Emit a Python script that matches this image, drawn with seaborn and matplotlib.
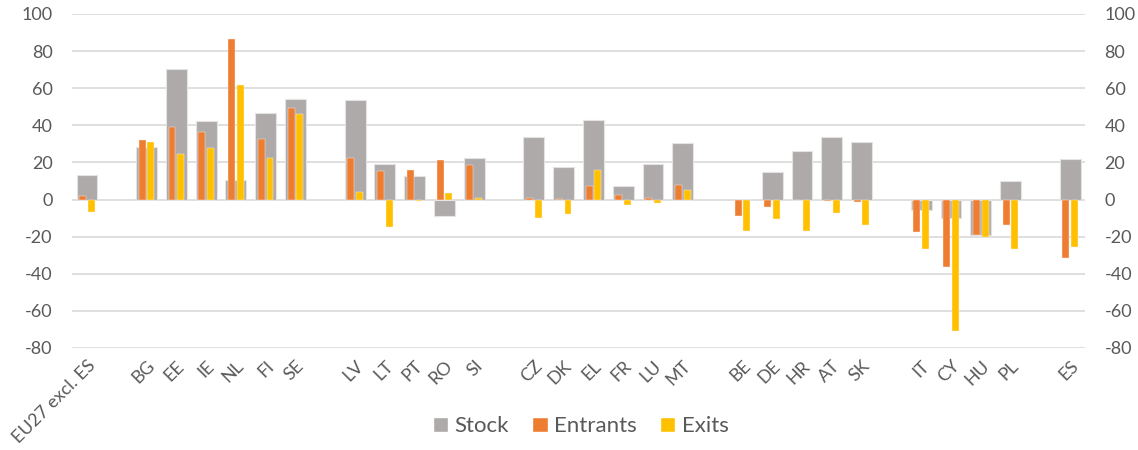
import matplotlib
matplotlib.use("Agg")
import matplotlib.pyplot as plt
from matplotlib.patches import Patch
import seaborn as sns
import pandas as pd

countries = ["EU27 excl. ES", "BG", "EE", "IE", "NL", "FI", "SE",
             "LV", "LT", "PT", "RO", "SI",
             "CZ", "DK", "EL", "FR", "LU", "MT",
             "BE", "DE", "HR", "AT", "SK",
             "IT", "CY", "HU", "PL", "ES"]
stock = [13, 28.4, 70.3, 42.1, 10.3, 46.6, 54,
         53.7, 19.2, 12.5, -9, 22.2,
         33.5, 17.4, 43, 7.1, 19, 30.6,
         0.5, 14.8, 26.1, 33.9, 30.8,
         -5.9, -10.1, -19.3, 10.1, 21.6]
entrants = [1.8, 32.2, 39, 36.3, 86.7, 32.7, 49.5,
            22.2, 15.6, 16.1, 21.2, 18.4,
            0.7, 0.2, 7.4, 2.2, 0.9, 8,
            -8.6, -4, 0, -0.7, -1.4,
            -17.7, -36.2, -19.3, -13.7, -31.4]
exits = [-6.8, 30.8, 24.8, 27.7, 61.7, 22.3, 45.9,
         4.2, -14.6, -0.9, 3.4, 1.1,
         -10.1, -7.6, 16.1, -2.7, -2, 5.4,
         -16.8, -10.5, -16.9, -7.4, -13.9,
         -26.7, -70.6, -20.4, -26.5, -25.6]

# category order with blank separator slots between country groups
order = ["EU27 excl. ES", " ",
         "BG", "EE", "IE", "NL", "FI", "SE", "  ",
         "LV", "LT", "PT", "RO", "SI", "   ",
         "CZ", "DK", "EL", "FR", "LU", "MT", "    ",
         "BE", "DE", "HR", "AT", "SK", "     ",
         "IT", "CY", "HU", "PL", "      ",
         "ES"]
y_ticks = [-80, -60, -40, -20, 0, 20, 40, 60, 80, 100]

C_STOCK = "#AEAAAA"
C_ENT = "#ED7D31"
C_EXIT = "#FFC000"
TXT = "#595959"

sns.set_theme(style="white")
plt.rcParams["font.family"] = ["Lato", "DejaVu Sans"]

df_stock = pd.DataFrame({"country": countries, "value": stock})
df_flow = pd.DataFrame({
    "country": countries * 2,
    "series": ["Entrants"] * len(countries) + ["Exits"] * len(countries),
    "value": entrants + exits,
})

fig = plt.figure(figsize=(11.38, 4.5), dpi=100)
ax = fig.add_axes([0.0633, 0.2267, 0.8902, 0.7422])

sns.barplot(data=df_stock, x="country", y="value", order=order,
            color=C_STOCK, saturation=1, width=0.70, errorbar=None,
            edgecolor="#E4E2E2", linewidth=0.8, ax=ax)
sns.barplot(data=df_flow, x="country", y="value", hue="series", order=order,
            hue_order=["Entrants", "Exits"], palette=[C_ENT, C_EXIT],
            saturation=1, width=0.58, gap=0.2, errorbar=None,
            edgecolor="#FFF4EC", linewidth=0.3, legend=False, ax=ax)

ax.set_ylim(-80, 100)
ax.set_yticks(y_ticks)
ax.set_yticklabels([str(v) for v in y_ticks])
ax.set_xlim(-0.5, len(order) - 0.5)
ax.set_xlabel("")
ax.set_ylabel("")
ax.set_axisbelow(True)
ax.yaxis.grid(True, color="#D9D9D9", linewidth=1.2)
ax.xaxis.grid(False)
for s in ax.spines.values():
    s.set_visible(False)
ax.tick_params(axis="both", length=0, colors=TXT, labelsize=13)
ax.tick_params(axis="y", pad=14)
plt.setp(ax.get_xticklabels(), rotation=45, ha="right",
         rotation_mode="anchor", color=TXT)
ax.tick_params(axis="x", pad=7)

ax2 = ax.twinx()
ax2.set_ylim(-80, 100)
ax2.set_yticks(y_ticks)
ax2.set_yticklabels([str(v) for v in y_ticks])
for s in ax2.spines.values():
    s.set_visible(False)
ax2.tick_params(axis="y", length=0, colors=TXT, labelsize=13, pad=14)
ax2.grid(False)

handles = [Patch(facecolor=C_STOCK, label="Stock"),
           Patch(facecolor=C_ENT, label="Entrants"),
           Patch(facecolor=C_EXIT, label="Exits")]
leg = fig.legend(handles=handles, loc="center", bbox_to_anchor=(0.5105, 0.053),
                 ncol=3, frameon=False, fontsize=16, handlelength=0.68,
                 handleheight=0.68, handletextpad=0.3, columnspacing=1.05)
for t in leg.get_texts():
    t.set_color(TXT)

fig.savefig("out.png", dpi=100)
